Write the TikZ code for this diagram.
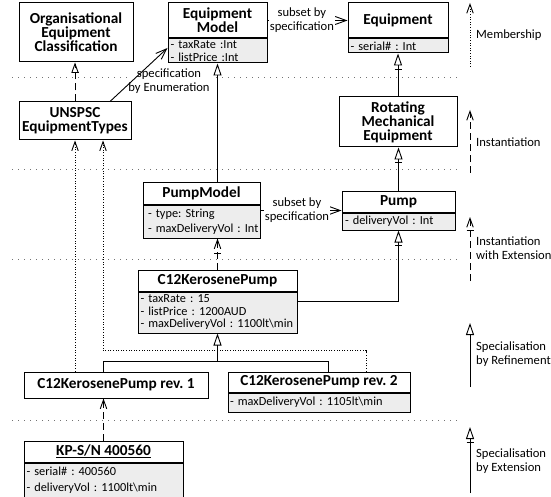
\documentclass[tikz,border=0pt]{standalone}
\usepackage{fontspec}
\setmainfont{Carlito}
\usetikzlibrary{arrows.meta,calc}
\newcommand\ttlfont{\bfseries\fontsize{15.3}{14}\selectfont}
\newcommand\attfont{\fontsize{12.3}{13}\selectfont}
\newcommand\lblfont{\fontsize{12.6}{14}\selectfont}
\newcommand\attline[1]{\mbox{#1}}
\frenchspacing
\begin{document}
\frenchspacing
\begin{tikzpicture}[x=1pt,y=-1pt,
  hdr/.style={draw,line width=1pt,fill=white,inner sep=0pt,font=\ttlfont,align=center},
  att/.style={draw,line width=1pt,fill=black!7,inner sep=0pt,anchor=north,font=\attfont,align=left},
  sepline/.style={draw=black!55,line width=0.9pt,dash pattern=on 0.9pt off 5.1pt},
  conn/.style={line width=0.9pt},
  opentip/.style={-{Straight Barb[length=9pt,width=6.5pt]}},
  gentip/.style={-{Triangle[open,length=12pt,width=8pt]}},
  inst/.style={conn,opentip,dash pattern=on 7pt off 4pt},
  memb/.style={conn,opentip,dash pattern=on 1pt off 1.6pt},
  gen/.style={conn,gentip},
  assoc/.style={conn,-{Straight Barb[length=11pt,width=8pt]}},
  lbl/.style={font=\lblfont,align=center,fill=white,inner sep=1pt},
  legend/.style={font=\lblfont,align=left,anchor=west,inner sep=0pt},
]
\useasboundingbox (0,0) rectangle (551,497);

% separators
\coordinate (s1a) at (12,77);  \coordinate (s1b) at (460,77);
\coordinate (s2a) at (12,169); \coordinate (s2b) at (460,169);
\coordinate (s3a) at (12,259); \coordinate (s3b) at (460,259);
\coordinate (s4a) at (12,420); \coordinate (s4b) at (460,420);
\draw[sepline] (s1a) -- (s1b);
\draw[sepline] (s2a) -- (s2b);
\draw[sepline] (s3a) -- (s3b);
\draw[sepline] (s4a) -- (s4b);

% classes
\node[hdr,minimum width=114pt,minimum height=59pt] (org) at (76,32.5) {Organisational\\Equipment\\Classification};

\node[hdr,minimum width=99pt,minimum height=35pt] (em) at (217.5,20.5) {Equipment\\Model};
\node[att,minimum width=99pt,minimum height=24pt,text width=94pt] (ema) at (em.south) {\attline{- taxRate :Int}\\\attline{- listPrice :Int}};

\node[hdr,minimum width=100pt,minimum height=35pt] (eq) at (398,20.5) {Equipment};
\node[att,minimum width=100pt,minimum height=14pt,text width=95pt] (eqa) at (eq.south) {\attline{- serial\# : Int}};

\node[hdr,minimum width=112pt,minimum height=38pt] (uns) at (75,121) {UNSPSC\\EquipmentTypes};

\node[hdr,minimum width=118pt,minimum height=50pt] (rme) at (398,122) {Rotating\\Mechanical\\Equipment};

\node[hdr,minimum width=117pt,minimum height=21pt] (pm) at (201.5,193.5) {PumpModel};
\node[att,minimum width=117pt,minimum height=33pt,text width=107pt,font={\fontsize{12.3}{15}\selectfont}] (pma) at (pm.south) {\attline{- type: String}\\\attline{- maxDeliveryVol : Int}};

\node[hdr,minimum width=113pt,minimum height=20pt] (pump) at (398.5,202) {Pump};
\node[att,minimum width=113pt,minimum height=17pt,text width=107pt] (pumpa) at (pump.south) {\attline{- deliveryVol : Int}};

\node[hdr,minimum width=159pt,minimum height=21pt] (c12) at (217.5,280.5) {C12KerosenePump};
\node[att,minimum width=159pt,minimum height=41pt,text width=154pt,font={\fontsize{12.3}{12.5}\selectfont}] (c12a) at (c12.south) {\attline{- taxRate : 15}\\\attline{- listPrice : 1200AUD}\\\attline{- maxDeliveryVol : 1100lt\textbackslash min}};

\node[hdr,minimum width=184pt,minimum height=26pt] (r1) at (116,385) {C12KerosenePump rev. 1};

\node[hdr,minimum width=182pt,minimum height=20pt] (r2) at (319,382) {C12KerosenePump rev. 2};
\node[att,minimum width=182pt,minimum height=19pt,text width=178pt] (r2a) at (r2.south) {\attline{- maxDeliveryVol : 1105lt\textbackslash min}};

\node[hdr,minimum width=159pt,minimum height=21pt] (kp) at (103.5,451.5) {\underline{KP-S/N 400560}};
\node[att,minimum width=159pt,minimum height=34pt,text width=154pt,font={\fontsize{12.3}{16}\selectfont}] (kpa) at (kp.south) {\attline{- serial\# : 400560}\\\attline{- deliveryVol : 1100lt\textbackslash min}};

% connectors
\draw[inst] (uns.north) -- (uns.north |- org.south);
\draw[conn] ($(uns.north |- org.south)+(-3.5,10)$) -- ++(7,0);

\node[lbl] (lenum) at (169,81.5) {specification\\by Enumeration};
\draw[assoc] ($(uns.north)+(35,0)$) -- ($(ema.west)+(0,-3)$);

\draw[assoc] (em.east) -- node[lbl,pos=0.43] (lsub1) {subset by\\specification} (eq.west);

\draw[gen] (rme.north) -- (eqa.south);
\draw[conn] ($(eqa.south)+(-3.5,16)$) -- ++(7,0);

\draw[gen] (pm.north -| ema.south) -- (ema.south);

\draw[gen] (pump.north) -- (pump.north |- rme.south);
\draw[conn] ($(pump.north |- rme.south)+(-3.5,15)$) -- ++(7,0);

\coordinate (pp) at ([yshift=2pt]pump.south west);
\draw[assoc] (pma.east |- pp) -- node[lbl,pos=0.45] (lsub2) {subset by\\specification} (pp);

\draw[inst] (c12.north) -- (c12.north |- pma.south);
\draw[conn] ($(c12.north |- pma.south)+(-3.5,15)$) -- ++(7,0);

\draw[gen] ($(c12a.east)+(0,-11.5)$) -| (pumpa.south);
\draw[conn] ($(pumpa.south)+(-3.5,15)$) -- ++(7,0);

\coordinate (jn) at ($(c12a.south)+(0,28)$);
\draw[conn] ($(r1.north)+(-13,0)$) |- (jn);
\draw[conn] ($(r2.north)+(9,0)$) |- (jn);
\draw[gen] (jn) -- (c12a.south);

\draw[memb] (r1.north -| uns.south) -- (uns.south);
\draw[memb] ($(r2.north)+(47,0)$) |- ($(uns.south)+(28,210)$) -- ($(uns.south)+(28,0)$);

\draw[inst] (kp.north) -- (kp.north |- r1.south);

% legend
\coordinate (l1b) at (470,67);  \coordinate (l1t) at (470,3);
\draw[memb] (l1b) -- (l1t);
\node[legend] (t1) at (476,35) {Membership};

\coordinate (l2b) at (470,173); \coordinate (l2t) at (470,110);
\draw[inst] (l2b) -- (l2t);
\node[legend] (t2) at (476,142) {Instantiation};

\coordinate (l3b) at (470,281); \coordinate (l3t) at (470,217);
\draw[inst] (l3b) -- (l3t);
\draw[conn] ($(l3t)+(-3.5,13)$) -- ++(7,0);
\node[legend] (t3) at (476,248.5) {Instantiation\\with Extension};

\coordinate (l4b) at (470,387); \coordinate (l4t) at (470,323);
\draw[gen] (l4b) -- (l4t);
\node[legend] (t4) at (476,354) {Specialisation\\by Refinement};

\coordinate (l5b) at (470,493); \coordinate (l5t) at (470,427);
\draw[gen] (l5b) -- (l5t);
\draw[conn] ($(l5t)+(-3.5,15)$) -- ++(7,0);
\node[legend] (t5) at (476,461) {Specialisation\\by Extension};
\end{tikzpicture}
\end{document}
